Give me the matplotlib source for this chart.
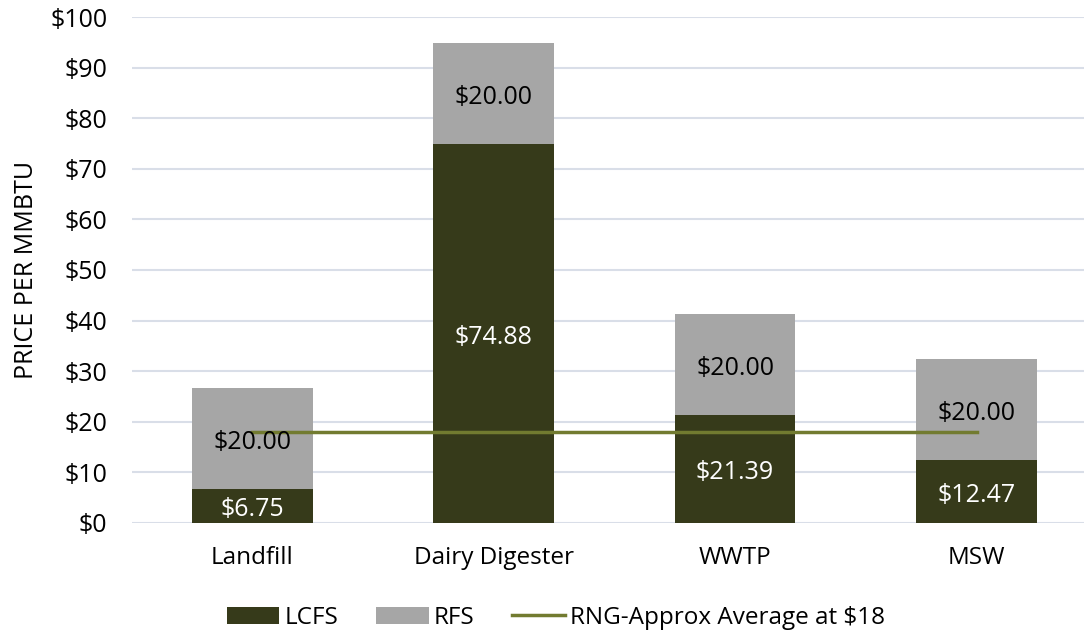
import matplotlib
matplotlib.use("Agg")
import matplotlib.pyplot as plt
import numpy as np

categories = ["Landfill", "Dairy Digester", "WWTP", "MSW"]
lcfs = [6.75, 74.88, 21.39, 12.47]
rfs = [20.00, 20.00, 20.00, 20.00]
rng_avg = 18
yticks = list(range(0, 101, 10))

plt.rcParams['font.family'] = ['Open Sans', 'DejaVu Sans']

fig = plt.figure(figsize=(10.84, 6.33), dpi=100)
ax = fig.add_axes([0.122, 0.174, 0.878, 0.799])

x = np.arange(len(categories))
dark = '#363a1a'
gray = '#a6a6a6'
olive = '#727b30'

b1 = ax.bar(x, lcfs, width=0.5, color=dark, label='LCFS', zorder=2)
b2 = ax.bar(x, rfs, width=0.5, bottom=lcfs, color=gray, label='RFS', zorder=2)
ln, = ax.plot([x[0], x[-1]], [rng_avg, rng_avg], color=olive, lw=2.5, zorder=3,
              label='RNG-Approx Average at $18')

for xi, l, r in zip(x, lcfs, rfs):
    ax.annotate(f"${l:.2f}", (xi, l / 2), xytext=(0, -3), textcoords='offset points',
                ha='center', va='center', color='white', fontsize=18, zorder=4)
    ax.annotate(f"${r:.2f}", (xi, l + r / 2), xytext=(0, -3), textcoords='offset points',
                ha='center', va='center', color='black', fontsize=18, zorder=4)

ax.set_xlim(-0.497, 3.445)
ax.set_ylim(0, 100)
ax.set_yticks(yticks)
ax.set_yticklabels([f"${v}" for v in yticks], fontsize=18)
ax.set_xticks(x)
ax.set_xticklabels(categories, fontsize=17.5)
ax.tick_params(axis='y', length=0, pad=18)
ax.tick_params(axis='x', length=0, pad=17)
ax.yaxis.grid(True, color='#d9dee8', lw=1.5, zorder=0)
ax.set_axisbelow(True)
for s in ax.spines.values():
    s.set_visible(False)
ax.set_ylabel("PRICE PER MMBTU", fontsize=18)
ax.yaxis.set_label_coords(-0.0985, 0.5)

fig.legend(handles=[b1, b2, ln], loc='center', bbox_to_anchor=(0.513, 0.024), ncol=3,
           frameon=False, fontsize=17.5, handlelength=2.15, handleheight=0.72, columnspacing=1.55,
           handletextpad=0.22, borderpad=0)

fig.savefig("out.png", dpi=100)
